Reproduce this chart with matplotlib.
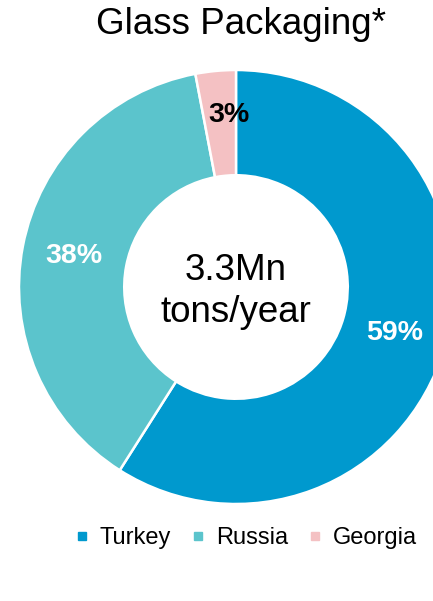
import matplotlib.pyplot as plt
from matplotlib.lines import Line2D

plt.rcParams['font.family'] = ['Liberation Sans', 'DejaVu Sans']

countries = ["Turkey", "Russia", "Georgia"]
shares = [59, 38, 3]
colors = ["#0099CE", "#5BC4CC", "#F4C1C3"]
label_colors = ["white", "white", "black"]
center_text = "3.3Mn\ntons/year"
title = "Glass Packaging*"

W, H = 433, 601
fig = plt.figure(figsize=(W / 100, H / 100), dpi=100)

# pie centre and radius in pixels
cx, cy, r = 236, 287, 217
lim = 1.1
half = r * lim
ax = fig.add_axes([(cx - half) / W, (H - cy - half) / H, 2 * half / W, 2 * half / H])

wedges, texts, autotexts = ax.pie(
    shares, colors=colors, startangle=90, counterclock=False,
    autopct=lambda p: f"{p:.0f}%", pctdistance=0.76,
    wedgeprops=dict(width=0.485, edgecolor="white", linewidth=1.8),
    textprops=dict(fontsize=20.5, fontweight="bold"),
)
for t, c in zip(autotexts, label_colors):
    t.set_color(c)
# small nudge for the thin slice label
x3, y3 = autotexts[2].get_position()
autotexts[2].set_position((x3 + 0.04, y3 + 0.035))

ax.text(0, -0.02, center_text, ha="center", va="center", fontsize=26.5,
        linespacing=1.25)
ax.set_xlim(-lim, lim)
ax.set_ylim(-lim, lim)
ax.set_aspect("equal")
ax.axis("off")

fig.text(241 / W, 1 - 25 / H, title, ha="center", va="center", fontsize=26.5)

handles = [Line2D([], [], marker="s", linestyle="none", markersize=5.5,
                  markerfacecolor=c, markeredgecolor=c) for c in colors]
fig.legend(handles, countries, loc="center", bbox_to_anchor=(246 / W, 1 - 538 / H),
           ncol=3, frameon=False, fontsize=17, handlelength=0.6,
           handletextpad=0.45, columnspacing=0.85)

fig.savefig("out.png", dpi=100)
